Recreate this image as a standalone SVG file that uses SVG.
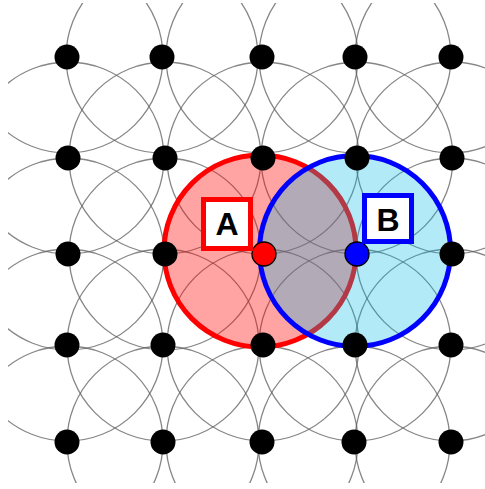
<svg xmlns="http://www.w3.org/2000/svg" width="485" height="489" viewBox="0 0 485 489">
<style>
.g{fill:none;stroke:#5e5e5e;stroke-opacity:0.75;stroke-width:1.3}
.d{fill:#000}
.lbl{font-family:"Liberation Sans",Arial,sans-serif;font-weight:bold;font-size:32px;fill:#000;text-anchor:middle}
</style>
<defs>
<clipPath id="clip"><rect x="8" y="3" width="477" height="480"/></clipPath>
</defs>
<rect width="485" height="489" fill="#fff"/>
<g id="connectors" clip-path="url(#clip)">
<circle class="g" cx="67" cy="57" r="96"/>
<circle class="g" cx="162" cy="57" r="96"/>
<circle class="g" cx="262" cy="57" r="96"/>
<circle class="g" cx="355" cy="57" r="96"/>
<circle class="g" cx="451" cy="57" r="96"/>
<circle class="g" cx="68" cy="158" r="96"/>
<circle class="g" cx="165" cy="158" r="96"/>
<circle class="g" cx="263" cy="158" r="96"/>
<circle class="g" cx="357" cy="158" r="96"/>
<circle class="g" cx="452" cy="158" r="96"/>
<circle class="g" cx="68" cy="254" r="96"/>
<circle class="g" cx="165" cy="254" r="96"/>
<circle class="g" cx="452" cy="254" r="96"/>
<circle class="g" cx="67" cy="345" r="96"/>
<circle class="g" cx="163" cy="345" r="96"/>
<circle class="g" cx="263" cy="345" r="96"/>
<circle class="g" cx="355" cy="345" r="96"/>
<circle class="g" cx="451" cy="345" r="96"/>
<circle class="g" cx="67" cy="442" r="96"/>
<circle class="g" cx="163" cy="442" r="96"/>
<circle class="g" cx="262" cy="442" r="96"/>
<circle class="g" cx="354" cy="442" r="96"/>
<circle class="g" cx="451" cy="442" r="96"/>
</g>
<g id="zone-a">
<circle cx="260" cy="251" r="96" fill="#ff0000" fill-opacity="0.36" stroke="#ff0000" stroke-width="5"/>
</g>
<g id="zone-b">
<circle cx="355" cy="251" r="95.5" fill="#00bee6" fill-opacity="0.3"/>
<circle cx="355" cy="251" r="95.5" fill="none" stroke="#0000ff" stroke-width="5"/>
</g>
<g id="n11"><circle class="d" cx="67" cy="57" r="12.5"/></g>
<g id="n12"><circle class="d" cx="162" cy="57" r="12.5"/></g>
<g id="n13"><circle class="d" cx="262" cy="57" r="12.5"/></g>
<g id="n14"><circle class="d" cx="355" cy="57" r="12.5"/></g>
<g id="n15"><circle class="d" cx="451" cy="57" r="12.5"/></g>
<g id="n21"><circle class="d" cx="68" cy="158" r="12.5"/></g>
<g id="n22"><circle class="d" cx="165" cy="158" r="12.5"/></g>
<g id="n23"><circle class="d" cx="263" cy="158" r="12.5"/></g>
<g id="n24"><circle class="d" cx="357" cy="158" r="12.5"/></g>
<g id="n25"><circle class="d" cx="452" cy="158" r="12.5"/></g>
<g id="n31"><circle class="d" cx="68" cy="254" r="12.5"/></g>
<g id="n32"><circle class="d" cx="165" cy="254" r="12.5"/></g>
<g id="n33"><circle cx="264" cy="254" r="12" fill="#ff0000" stroke="#000" stroke-width="1.3"/></g>
<g id="n34"><circle cx="357" cy="254" r="12" fill="#0000ff" stroke="#000" stroke-width="1.3"/></g>
<g id="n35"><circle class="d" cx="452" cy="254" r="12.5"/></g>
<g id="n41"><circle class="d" cx="67" cy="345" r="12.5"/></g>
<g id="n42"><circle class="d" cx="163" cy="345" r="12.5"/></g>
<g id="n43"><circle class="d" cx="263" cy="345" r="12.5"/></g>
<g id="n44"><circle class="d" cx="355" cy="345" r="12.5"/></g>
<g id="n45"><circle class="d" cx="451" cy="345" r="12.5"/></g>
<g id="n51"><circle class="d" cx="67" cy="442" r="12.5"/></g>
<g id="n52"><circle class="d" cx="163" cy="442" r="12.5"/></g>
<g id="n53"><circle class="d" cx="262" cy="442" r="12.5"/></g>
<g id="n54"><circle class="d" cx="354" cy="442" r="12.5"/></g>
<g id="n55"><circle class="d" cx="451" cy="442" r="12.5"/></g>
<g id="label-a">
<rect x="203.5" y="199.5" width="47" height="49" fill="#fff" stroke="#ff0000" stroke-width="5"/>
<text class="lbl" x="227" y="235">A</text>
</g>
<g id="label-b">
<rect x="364.5" y="195.5" width="47" height="46" fill="#fff" stroke="#0000ff" stroke-width="5"/>
<text class="lbl" x="388" y="231">B</text>
</g>
</svg>
